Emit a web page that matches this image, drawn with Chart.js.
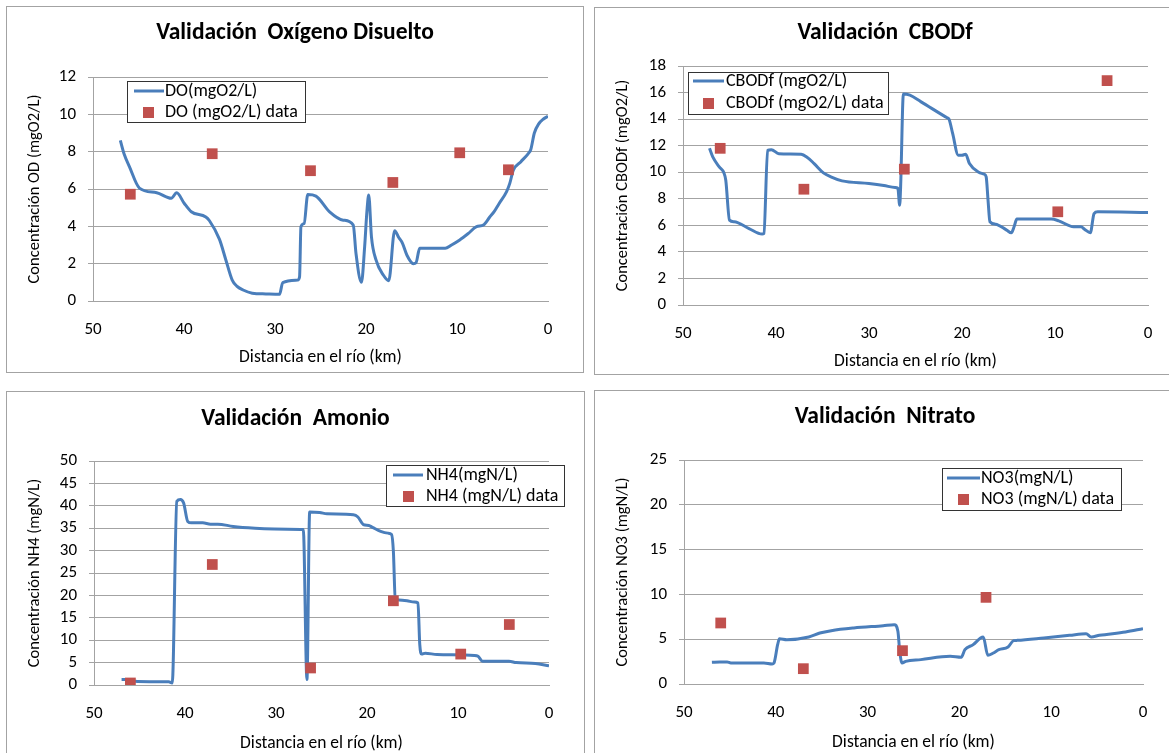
<!DOCTYPE html>
<html>
<head>
<meta charset="utf-8">
<title>Validación del modelo de calidad del agua</title>
<script src="https://cdn.jsdelivr.net/npm/chart.js@4.4.1/dist/chart.umd.min.js"></script>
<style>
  body { margin: 0; background: #fff; width: 1169px; height: 753px; overflow: hidden; position: relative; }
  .panel { position: absolute; border: 1px solid #a3a3a3; background: #fff; }
  .panel canvas { display: block; }
</style>
</head>
<body>
<div class="panel" style="left:6px;top:6px"><canvas id="chart-od" width="576" height="365"></canvas></div>
<div class="panel" style="left:594px;top:7px"><canvas id="chart-cbodf" width="580" height="366"></canvas></div>
<div class="panel" style="left:6px;top:391px"><canvas id="chart-nh4" width="577" height="370"></canvas></div>
<div class="panel" style="left:594px;top:390px"><canvas id="chart-no3" width="580" height="370"></canvas></div>

<script>
// ---- Oxígeno disuelto: modelo y datos de campo ----
const doKm = [47.0, 46.6, 46.0, 44.9, 43.0, 41.4, 40.8, 40.0, 39.2, 37.6, 37.2, 36.1, 35.4, 34.7, 34.2, 33.5, 32.5, 31.0, 29.5,
  29.15, 27.5, 27.3, 27.15, 26.8, 26.4, 25.5, 24.0, 22.5, 21.4, 21.1, 20.5, 20.15, 19.9, 19.7, 19.4, 18.9, 18.1, 17.5, 16.85,
  16.4, 16.0, 15.5, 14.8, 14.5, 14.1, 13.5, 11.3, 10.6, 9.7, 8.8, 7.85, 7.1, 6.4, 5.9, 5.4, 4.55, 4.2, 3.82, 3.0, 2.17, 1.9,
  1.5, 1.0, 0.5, 0];
const doModelo = [8.6, 7.9, 7.2, 6.05, 5.8, 5.5, 5.8, 5.25, 4.78, 4.5, 4.3, 3.3, 2.2, 1.12, 0.8, 0.59, 0.42, 0.38, 0.36,
  0.99, 1.12, 1.3, 3.98, 4.15, 5.7, 5.62, 4.78, 4.33, 4.07, 2.55, 1.0, 2.9, 4.8, 5.68, 3.44, 2.2, 1.39, 1.09, 3.77,
  3.4, 3.1, 2.45, 2.0, 2.05, 2.82, 2.82, 2.82, 3.0, 3.27, 3.6, 3.98, 4.07, 4.5, 4.8, 5.2, 5.86, 6.3, 7.0, 7.45, 7.9, 8.1,
  9.0, 9.5, 9.75, 9.9];
const doDatosKm = [45.9, 36.9, 26.1, 17.05, 9.7, 4.35];
const doDatos = [5.72, 7.89, 6.98, 6.35, 7.94, 7.03];

// ---- CBODf ----
const cbodKm = [47.15, 46.8, 46.1, 45.6, 45.4, 45.0, 44.5, 42.9, 41.5, 41.3, 40.9, 40.5, 39.7, 37.3, 36.7, 35.9, 34.9, 34.1,
  32.9, 30.0, 28.4, 27.2, 26.9, 26.7, 26.6, 26.3, 25.6, 24.4, 21.6, 21.4, 21.0, 20.4, 20.0, 19.6, 19.2, 18.2, 17.6, 17.4,
  17.2, 17.0, 16.4, 15.2, 14.7, 14.4, 14.1, 10.4, 9.6, 8.0, 7.2, 6.8, 6.2, 5.8, 5.4, 0];
const cbodModelo = [11.8, 11.15, 10.4, 9.95, 9.4, 6.39, 6.27, 5.76, 5.34, 5.39, 11.65, 11.7, 11.4, 11.35, 11.15, 10.65, 9.95, 9.65,
  9.35, 9.15, 9.0, 8.85, 8.8, 7.52, 8.9, 15.9, 15.8, 15.3, 14.1, 14.0, 12.9, 11.28, 11.28, 11.35, 10.65, 10.0, 9.85, 9.65,
  7.9, 6.27, 6.09, 5.64, 5.44, 5.89, 6.47, 6.47, 6.34, 5.89, 5.89, 5.69, 5.44, 6.89, 7.02, 6.97];
const cbodDatosKm = [46.0, 37.0, 26.2, 9.7, 4.4];
const cbodDatos = [11.8, 8.72, 10.23, 7.02, 16.9];

// ---- Amonio ----
const nh4Km = [46.97, 46.35, 45.5, 43.9, 41.8, 41.4, 40.9, 40.5, 40.15, 39.7, 39.3, 38.05, 37.2, 36.4, 34.7, 32.3, 30.2, 27.3,
  27.0, 26.6, 26.3, 25.2, 24.4, 21.5, 21.0, 20.4, 19.8, 19.4, 18.5, 17.7, 17.3, 17.1, 16.9, 16.5, 15.6, 14.8, 14.4, 14.2,
  14.0, 13.6, 12.3, 8.2, 7.8, 7.3, 4.4, 3.6, 1.5, 0];
const nh4Modelo = [1.2, 1.2, 0.82, 0.74, 0.74, 0.45, 41.0, 41.4, 40.6, 36.5, 36.2, 36.2, 35.9, 35.9, 35.4, 35.0, 34.8, 34.7,
  34.7, 1.2, 38.6, 38.5, 38.2, 38.0, 37.5, 35.8, 35.6, 35.2, 34.3, 33.9, 33.6, 29.8, 19.4, 19.0, 18.8, 18.5, 18.3, 9.0,
  6.9, 7.1, 6.8, 6.6, 6.4, 5.3, 5.3, 5.0, 4.8, 4.3];
const nh4DatosKm = [46.0, 37.0, 26.2, 17.1, 9.7, 4.36];
const nh4Datos = [0.45, 26.9, 3.8, 18.8, 6.9, 13.5];

// ---- Nitrato ----
const no3Km = [46.96, 46.1, 45.3, 44.9, 41.3, 40.4, 40.2, 39.8, 39.6, 38.8, 36.4, 35.2, 33.96, 31.5, 28.3, 27.1, 26.7, 26.5,
  26.25, 25.85, 24.2, 21.0, 19.8, 19.4, 18.5, 17.7, 17.4, 16.9, 16.3, 15.7, 14.7, 14.1, 13.7, 10.8, 8.0, 6.2, 5.64, 4.75,
  1.9, 0];
const no3Modelo = [2.42, 2.46, 2.46, 2.34, 2.34, 2.23, 2.34, 4.39, 5.06, 4.95, 5.25, 5.69, 5.95, 6.25, 6.51, 6.62, 5.88, 3.65,
  2.34, 2.53, 2.72, 3.09, 2.98, 3.83, 4.39, 5.13, 5.25, 3.2, 3.46, 3.83, 4.13, 4.84, 4.87, 5.13, 5.43, 5.62, 5.25, 5.43,
  5.8, 6.18];
const no3DatosKm = [46.0, 37.0, 26.2, 17.1];
const no3Datos = [6.81, 1.71, 3.72, 9.67];

// ---- Estilo general ----
const FONT = "Carlito, Lato, 'Open Sans', sans-serif";
const GRID = '#a3a3a3';
const AZUL = '#4a7ebb';
const ROJO = '#c0504d';

const toXY = (xs, ys) => xs.map((x, i) => ({ x, y: ys[i] }));

// Título y leyenda dibujados a mano en posiciones fijas
const panelDecor = {
  id: 'panelDecor',
  afterDraw(chart, args, opts) {
    const ctx = chart.ctx;
    const lg = opts.legend;
    ctx.save();
    ctx.fillStyle = '#000';
    ctx.textAlign = 'center';
    ctx.textBaseline = 'middle';
    ctx.font = `bold 23.5px ${FONT}`;
    ctx.fillText(opts.title, chart.width / 2, opts.titleY);

    ctx.fillStyle = '#fff';
    ctx.fillRect(lg.x, lg.y, lg.w, lg.h);
    ctx.strokeStyle = '#333';
    ctx.lineWidth = 1;
    ctx.strokeRect(lg.x + 0.5, lg.y + 0.5, lg.w, lg.h);

    const ds = chart.data.datasets;
    ctx.strokeStyle = AZUL;
    ctx.lineWidth = 3;
    ctx.beginPath();
    ctx.moveTo(lg.line[0], lg.row1);
    ctx.lineTo(lg.line[1], lg.row1);
    ctx.stroke();
    ctx.fillStyle = ROJO;
    ctx.fillRect(lg.sq - 5, lg.row2 - 5, 11, 11);

    ctx.fillStyle = '#000';
    ctx.textAlign = 'left';
    ctx.font = `18px ${FONT}`;
    ctx.fillText(ds[1].label, lg.text, lg.row1);
    ctx.fillText(ds[0].label, lg.text, lg.row2);
    ctx.restore();
  }
};

function crearPanel(id, p) {
  const canvas = document.getElementById(id);
  const W = canvas.width, H = canvas.height;
  return new Chart(canvas, {
    type: 'scatter',
    data: {
      datasets: [
        {
          label: p.serie + ' data',
          data: toXY(p.datosKm, p.datos),
          pointStyle: 'rect',
          pointRadius: 7.6,
          pointBackgroundColor: ROJO,
          pointBorderColor: ROJO,
          pointBorderWidth: 0,
          showLine: false,
          order: 0
        },
        {
          label: p.serieLinea,
          data: toXY(p.km, p.modelo),
          showLine: true,
          borderColor: AZUL,
          borderWidth: 3,
          pointRadius: 0,
          cubicInterpolationMode: 'monotone',
          borderJoinStyle: 'round',
          order: 1
        }
      ]
    },
    options: {
      responsive: false,
      animation: false,
      layout: {
        padding: { left: 0, top: p.area.top, right: W - p.area.right, bottom: H - p.area.xBottom }
      },
      plugins: {
        legend: { display: false },
        tooltip: { enabled: false },
        panelDecor: { title: p.titulo, titleY: p.titleY, legend: p.leyenda }
      },
      scales: {
        x: {
          type: 'linear',
          reverse: true,
          min: 0, max: 50,
          afterFit: s => { s.height = p.area.xBottom - p.area.bottom; },
          grid: { display: false, drawTicks: false },
          border: { display: true, color: GRID, width: 1 },
          ticks: { stepSize: 10, autoSkip: false, maxRotation: 0, padding: 19, color: '#000', font: { family: FONT, size: 17 } },
          title: { display: true, text: 'Distancia en el río (km)', color: '#000', padding: 0, font: { family: FONT, size: 17.5 } }
        },
        y: {
          min: 0, max: p.yMax,
          afterFit: s => { s.width = p.area.left; },
          grid: { color: GRID, lineWidth: 1, drawTicks: true, tickLength: 5, tickColor: GRID },
          border: { display: true, color: GRID, width: 1 },
          ticks: { stepSize: p.yStep, autoSkip: false, padding: 12, color: '#000', font: { family: FONT, size: 17 } },
          title: { display: true, text: p.yTitulo, color: '#000', padding: { top: 18, bottom: 0 }, font: { family: FONT, size: 16.5 } }
        }
      }
    },
    plugins: [panelDecor]
  });
}

crearPanel('chart-od', {
  titulo: 'Validación  Oxígeno Disuelto', titleY: 26,
  serie: 'DO (mgO2/L)', serieLinea: 'DO(mgO2/L)',
  km: doKm, modelo: doModelo, datosKm: doDatosKm, datos: doDatos,
  yMax: 12, yStep: 2, yTitulo: 'Concentración OD (mgO2/L)',
  area: { left: 86, right: 541, top: 70, bottom: 294, xBottom: 361 },
  leyenda: { x: 120, y: 74, w: 178, h: 41, line: [127, 157], text: 158, row1: 84, row2: 105, sq: 141 }
});

crearPanel('chart-cbodf', {
  titulo: 'Validación  CBODf', titleY: 25,
  serie: 'CBODf (mgO2/L)', serieLinea: 'CBODf (mgO2/L)',
  km: cbodKm, modelo: cbodModelo, datosKm: cbodDatosKm, datos: cbodDatos,
  yMax: 18, yStep: 2, yTitulo: 'Concentración CBODf (mgO2/L)',
  area: { left: 88, right: 553, top: 58, bottom: 297, xBottom: 364 },
  leyenda: { x: 93, y: 64, w: 200, h: 42, line: [98, 129], text: 131, row1: 73, row2: 95, sq: 113 }
});

crearPanel('chart-nh4', {
  titulo: 'Validación  Amonio', titleY: 27,
  serie: 'NH4 (mgN/L)', serieLinea: 'NH4(mgN/L)',
  km: nh4Km, modelo: nh4Modelo, datosKm: nh4DatosKm, datos: nh4Datos,
  yMax: 50, yStep: 5, yTitulo: 'Concentración NH4 (mgN/L)',
  area: { left: 87, right: 542, top: 69, bottom: 293, xBottom: 362 },
  leyenda: { x: 379, y: 73, w: 178, h: 41, line: [386, 416], text: 419, row1: 83, row2: 104, sq: 401 }
});

crearPanel('chart-no3', {
  titulo: 'Validación  Nitrato', titleY: 26,
  serie: 'NO3 (mgN/L)', serieLinea: 'NO3(mgN/L)',
  km: no3Km, modelo: no3Modelo, datosKm: no3DatosKm, datos: no3Datos,
  yMax: 25, yStep: 5, yTitulo: 'Concentración NO3 (mgN/L)',
  area: { left: 89, right: 548, top: 69, bottom: 293, xBottom: 362 },
  leyenda: { x: 347, y: 77, w: 179, h: 42, line: [352, 385], text: 386, row1: 87, row2: 108, sq: 368 }
});
</script>
</body>
</html>
